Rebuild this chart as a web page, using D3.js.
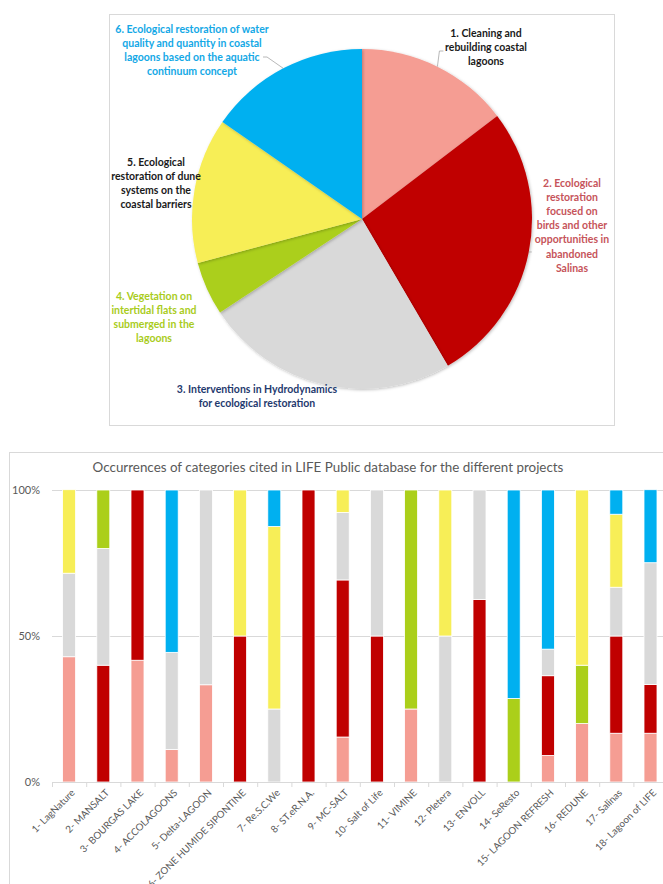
<!DOCTYPE html>
<html lang="en">
<head>
<meta charset="utf-8" />
<title>Lagoon restoration categories</title>
<script src="https://d3js.org/d3.v7.min.js"></script>
<style>
  body { margin: 0; background: #fff; }
  svg text { font-family: Lato, "Open Sans", sans-serif; }
</style>
</head>
<body>
<script>
  // pie: share of each category (%)
  const pieValues = [14.6, 26.9, 24.1, 5.1, 13.8, 15.3];
  const pieLabels = [
    ["1. Cleaning and", "rebuilding coastal", "lagoons"],
    ["2. Ecological", "restoration", "focused on", "birds and other", "opportunities in", "abandoned", "Salinas"],
    ["3. Interventions in Hydrodynamics", "for ecological restoration"],
    ["4. Vegetation on", "intertidal flats and", "submerged in the", "lagoons"],
    ["5. Ecological", "restoration of dune", "systems on the", "coastal barriers"],
    ["6. Ecological restoration of water", "quality and quantity in coastal", "lagoons based on the aquatic", "continuum concept"]
  ];

  // stacked bars: projects and % of each category
  const projects = ["1- LagNature", "2- MANSALT", "3- BOURGAS LAKE", "4- ACCOLAGOONS", "5- Delta-LAGOON",
    "6- ZONE HUMIDE SIPONTINE", "7- Re.S.C.We", "8- ST.eR.N.A.", "9- MC-SALT", "10- Salt of Life",
    "11- VIMINE", "12- Pletera", "13- ENVOLL", "14- SeResto", "15- LAGOON REFRESH", "16- REDUNE",
    "17- Salinas", "18- Lagoon of LIFE"];
  const cat1 = [42.9, 0, 41.7, 11.1, 33.3, 0, 0, 0, 15.4, 0, 25, 0, 0, 0, 9.1, 20, 16.7, 16.7];
  const cat2 = [0, 40, 58.3, 0, 0, 50, 0, 100, 53.8, 50, 0, 0, 62.5, 0, 27.3, 0, 33.3, 16.7];
  const cat3 = [28.6, 40, 0, 33.3, 66.7, 0, 25, 0, 23.1, 50, 0, 50, 37.5, 0, 9.1, 0, 16.7, 41.7];
  const cat4 = [0, 20, 0, 0, 0, 0, 0, 0, 0, 0, 75, 0, 0, 28.6, 0, 20, 0, 0];
  const cat5 = [28.6, 0, 0, 0, 0, 50, 62.5, 0, 7.7, 0, 0, 50, 0, 0, 0, 60, 25, 0];
  const cat6 = [0, 0, 0, 55.6, 0, 0, 12.5, 0, 0, 0, 0, 0, 0, 71.4, 54.5, 0, 8.3, 25];
  const yTicks = [0, 50, 100];

  const colors = ["#F59D93", "#C00000", "#D9D9D9", "#ABCF1A", "#F7EE57", "#00B0F0"];
  const labelColors = ["#1a1a1a", "#C6545A", "#1F3A6E", "#A9CC1C", "#1a1a1a", "#13A8E6"];

  const svg = d3.select("body").append("svg")
      .attr("width", 663)
      .attr("height", 884);

  // ---------- pie card ----------
  svg.append("rect")
      .attr("x", 109.5).attr("y", 14.5)
      .attr("width", 505).attr("height", 411)
      .attr("fill", "#fff")
      .attr("stroke", "#d9d9d9");

  const defs = svg.append("defs");
  const shadow = defs.append("filter").attr("id", "shadow")
      .attr("x", "-10%").attr("y", "-10%").attr("width", "120%").attr("height", "120%");
  shadow.append("feDropShadow")
      .attr("dx", 1).attr("dy", 1).attr("stdDeviation", 1.5)
      .attr("flood-color", "#000").attr("flood-opacity", 0.25);

  const cx = 362, cy = 219, r = 170;
  const pie = d3.pie().sort(null).value(d => d);
  const arcs = pie(pieValues);
  const arc = d3.arc().innerRadius(0).outerRadius(r);

  const pieG = svg.append("g").attr("transform", `translate(${cx},${cy})`);
  pieG.selectAll("path")
      .data(arcs)
      .enter()
      .append("path")
      .attr("d", arc)
      .attr("fill", (d, i) => colors[i])
      .attr("filter", "url(#shadow)");

  // label placement (centre x, first line y)
  const labelPos = [[486, 33], [572, 183], [257, 389], [154, 296], [156, 162], [192, 29]];
  const lineH = 14.2;

  const edge = d => {
    const a = (d.startAngle + d.endAngle) / 2;
    return [cx + r * Math.sin(a), cy - r * Math.cos(a)];
  };

  // leader lines for slices 1, 2 and 6
  const leaders = [
    { i: 0, pts: e => [e, [e[0] + 2, 51], [e[0] + 6, 51]] },
    { i: 1, pts: e => [e, [e[0] + 3, e[1]]] },
    { i: 5, pts: e => [e, [267, 57], [263, 57]] }
  ];
  leaders.forEach(l => {
    svg.append("path")
        .attr("d", d3.line()(l.pts(edge(arcs[l.i]))))
        .attr("fill", "none")
        .attr("stroke", "#a6a6a6")
        .attr("stroke-width", 0.8);
  });

  pieLabels.forEach((lines, i) => {
    const t = svg.append("text")
        .attr("text-anchor", "middle")
        .attr("font-size", "10.5px")
        .attr("font-weight", "bold")
        .attr("fill", labelColors[i]);
    lines.forEach((s, j) => {
      t.append("tspan")
          .attr("x", labelPos[i][0])
          .attr("y", labelPos[i][1] + j * lineH)
          .attr("dy", "0.35em")
          .text(s);
    });
  });

  // ---------- bar chart card ----------
  svg.append("rect")
      .attr("x", 9.5).attr("y", 452.5)
      .attr("width", 700).attr("height", 500)
      .attr("fill", "#fff")
      .attr("stroke", "#d9d9d9");

  svg.append("text")
      .attr("x", 328).attr("y", 467)
      .attr("dy", "0.35em")
      .attr("text-anchor", "middle")
      .attr("font-size", "13.4px")
      .attr("fill", "#595959")
      .text("Occurrences of categories cited in LIFE Public database for the different projects");

  const series = [cat1, cat2, cat3, cat4, cat5, cat6];
  const keys = ["c1", "c2", "c3", "c4", "c5", "c6"];
  const rows = projects.map((p, i) => {
    const row = { project: p };
    keys.forEach((k, j) => row[k] = series[j][i]);
    return row;
  });

  const x0 = 52, step = 34.2;
  const xScale = d3.scaleBand()
      .domain(projects)
      .range([x0, x0 + step * projects.length])
      .paddingInner(0.62)
      .paddingOuter(0.31);
  const yScale = d3.scaleLinear()
      .domain([0, 100])
      .range([782, 490]);

  // gridlines
  svg.append("g")
      .selectAll("line")
      .data(yTicks.filter(t => t > 0))
      .enter()
      .append("line")
      .attr("x1", x0).attr("x2", 670)
      .attr("y1", d => yScale(d) + 0.5).attr("y2", d => yScale(d) + 0.5)
      .attr("stroke", "#d9d9d9");

  // y labels
  svg.append("g")
      .selectAll("text")
      .data(yTicks)
      .enter()
      .append("text")
      .attr("x", 40)
      .attr("y", d => yScale(d))
      .attr("dy", "0.35em")
      .attr("text-anchor", "end")
      .attr("font-size", "11px")
      .attr("fill", "#595959")
      .text(d => d + "%");

  const stack = d3.stack().keys(keys);
  const layers = stack(rows);

  svg.append("g")
      .selectAll("g")
      .data(layers)
      .enter()
      .append("g")
      .attr("fill", (d, i) => colors[i])
      .selectAll("rect")
      .data(d => d.filter(s => s[1] - s[0] > 0))
      .enter()
      .append("rect")
      .attr("x", d => xScale(d.data.project))
      .attr("y", d => yScale(d[1]))
      .attr("width", xScale.bandwidth())
      .attr("height", d => yScale(d[0]) - yScale(d[1]))
      .attr("stroke", "#fff")
      .attr("stroke-width", 0.8);

  // x axis
  const axisG = svg.append("g");
  axisG.append("line")
      .attr("x1", x0).attr("x2", 670)
      .attr("y1", 782.5).attr("y2", 782.5)
      .attr("stroke", "#d9d9d9");
  axisG.selectAll(".tick")
      .data(d3.range(projects.length + 1))
      .enter()
      .append("line")
      .attr("x1", i => x0 + i * step + 0.5).attr("x2", i => x0 + i * step + 0.5)
      .attr("y1", 782).attr("y2", 787)
      .attr("stroke", "#d9d9d9");

  axisG.selectAll("text")
      .data(projects)
      .enter()
      .append("text")
      .attr("transform", d => `translate(${xScale(d) + xScale.bandwidth() / 2 + 4},${791}) rotate(-45)`)
      .attr("text-anchor", "end")
      .attr("dy", "0.35em")
      .attr("font-size", "9.8px")
      .attr("fill", "#595959")
      .text(d => d);
</script>
</body>
</html>
